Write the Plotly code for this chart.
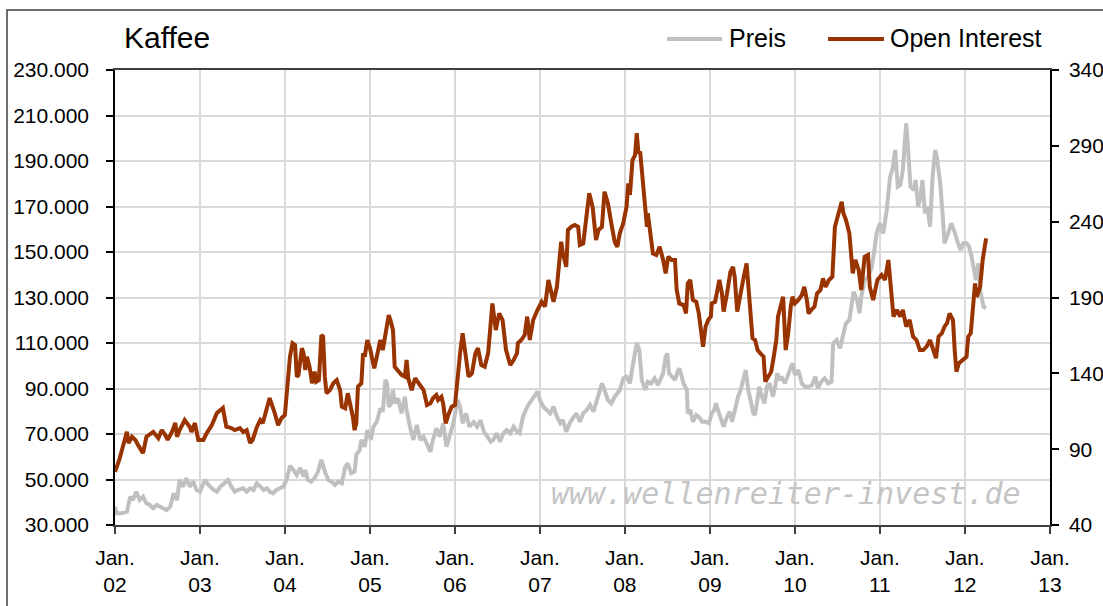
import plotly.graph_objects as go
import pandas as pd

# ---------------- data ----------------
# Open Interest (contracts, thousands) -> left axis
oi_years = [
    2002.00, 2002.05, 2002.14, 2002.16, 2002.20, 2002.24, 2002.27, 2002.33, 2002.37, 2002.45,
    2002.51, 2002.55, 2002.59, 2002.62, 2002.67, 2002.71, 2002.73, 2002.76, 2002.82, 2002.88,
    2002.90, 2002.94, 2002.98, 2003.04, 2003.08, 2003.14, 2003.20, 2003.24, 2003.27, 2003.31,
    2003.37, 2003.41, 2003.47, 2003.51, 2003.55, 2003.59, 2003.62, 2003.67, 2003.71, 2003.74,
    2003.78, 2003.82, 2003.88, 2003.92, 2003.96, 2004.00, 2004.06, 2004.09, 2004.12, 2004.14,
    2004.16, 2004.20, 2004.22, 2004.24, 2004.26, 2004.29, 2004.32, 2004.35, 2004.37, 2004.40,
    2004.43, 2004.45, 2004.47, 2004.49, 2004.53, 2004.57, 2004.61, 2004.65, 2004.67, 2004.71,
    2004.74, 2004.77, 2004.80, 2004.82, 2004.84, 2004.86, 2004.90, 2004.92, 2004.94, 2004.97,
    2005.00, 2005.02, 2005.05, 2005.08, 2005.12, 2005.15, 2005.19, 2005.22, 2005.24, 2005.27,
    2005.29, 2005.33, 2005.37, 2005.41, 2005.43, 2005.45, 2005.49, 2005.53, 2005.57, 2005.61,
    2005.63, 2005.67, 2005.71, 2005.74, 2005.78, 2005.80, 2005.84, 2005.86, 2005.89, 2005.92,
    2005.96, 2006.00, 2006.02, 2006.06, 2006.09, 2006.12, 2006.16, 2006.20, 2006.24, 2006.27,
    2006.31, 2006.35, 2006.39, 2006.44, 2006.48, 2006.52, 2006.56, 2006.60, 2006.65, 2006.69,
    2006.73, 2006.74, 2006.78, 2006.82, 2006.85, 2006.88, 2006.92, 2006.97, 2007.02, 2007.06,
    2007.10, 2007.16, 2007.20, 2007.25, 2007.27, 2007.31, 2007.33, 2007.37, 2007.41, 2007.45,
    2007.47, 2007.51, 2007.55, 2007.58, 2007.62, 2007.66, 2007.69, 2007.73, 2007.76, 2007.80,
    2007.84, 2007.88, 2007.91, 2007.94, 2007.98, 2008.02, 2008.04, 2008.06, 2008.09, 2008.12,
    2008.14, 2008.16, 2008.18, 2008.22, 2008.26, 2008.27, 2008.29, 2008.31, 2008.33, 2008.37,
    2008.41, 2008.45, 2008.48, 2008.51, 2008.55, 2008.59, 2008.61, 2008.64, 2008.69, 2008.72,
    2008.74, 2008.77, 2008.80, 2008.84, 2008.87, 2008.90, 2008.92, 2008.95, 2008.98, 2009.01,
    2009.02, 2009.06, 2009.09, 2009.11, 2009.14, 2009.16, 2009.20, 2009.24, 2009.27, 2009.29,
    2009.32, 2009.35, 2009.39, 2009.43, 2009.45, 2009.48, 2009.50, 2009.53, 2009.56, 2009.59,
    2009.63, 2009.65, 2009.69, 2009.72, 2009.75, 2009.78, 2009.80, 2009.83, 2009.86, 2009.89,
    2009.92, 2009.95, 2009.97, 2010.00, 2010.04, 2010.08, 2010.11, 2010.14, 2010.16, 2010.19,
    2010.23, 2010.26, 2010.30, 2010.33, 2010.36, 2010.40, 2010.44, 2010.47, 2010.50, 2010.53,
    2010.55, 2010.57, 2010.60, 2010.64, 2010.66, 2010.68, 2010.71, 2010.75, 2010.78, 2010.82,
    2010.86, 2010.88, 2010.92, 2010.97, 2011.02, 2011.06, 2011.10, 2011.13, 2011.16, 2011.20,
    2011.24, 2011.27, 2011.31, 2011.35, 2011.39, 2011.43, 2011.47, 2011.51, 2011.55, 2011.59,
    2011.63, 2011.66, 2011.69, 2011.73, 2011.76, 2011.79, 2011.82, 2011.86, 2011.88, 2011.90,
    2011.93, 2011.97, 2012.02, 2012.04, 2012.07, 2012.10, 2012.12, 2012.14, 2012.18, 2012.21,
    2012.25,
]
oi_thousands = [
    53.4, 58.6, 71.0, 66.0, 68.8, 67.4, 65.2, 61.6, 68.8, 70.9,
    68.2, 71.7, 69.6, 67.4, 70.9, 74.8, 68.8, 71.7, 76.1, 73.1,
    70.9, 74.8, 67.4, 67.4, 70.4, 73.9, 79.2, 80.5, 81.4, 73.2,
    72.6, 71.7, 72.6, 70.9, 71.7, 66.0, 67.4, 73.1, 76.1, 74.8,
    80.5, 85.8, 79.2, 73.9, 77.0, 78.3, 104.0, 109.9, 109.1, 95.2,
    95.9, 107.7, 105.5, 98.1, 104.0, 99.6, 92.3, 97.4, 93.0, 93.7,
    113.5, 112.8, 95.2, 87.9, 89.3, 92.3, 93.7, 89.3, 82.0, 81.3,
    87.9, 83.5, 77.6, 71.7, 74.7, 90.8, 92.3, 105.5, 104.0, 111.3,
    107.7, 104.0, 98.9, 104.0, 111.3, 106.9, 117.2, 122.3, 120.1, 115.7,
    99.6, 98.1, 96.0, 95.2, 102.5, 94.5, 89.3, 94.5, 92.3, 90.8,
    89.3, 82.7, 83.5, 85.7, 87.1, 85.0, 86.4, 83.5, 74.7, 78.3,
    82.0, 82.7, 90.8, 105.5, 114.3, 105.5, 95.2, 96.7, 105.5, 107.7,
    100.3, 99.6, 105.5, 127.4, 115.7, 123.0, 120.1, 107.0, 100.3, 102.5,
    105.5, 109.9, 111.3, 113.5, 121.6, 111.3, 120.1, 124.5, 128.1, 126.0,
    137.7, 128.1, 134.7, 154.5, 149.4, 143.5, 159.7, 161.1, 161.9, 161.1,
    153.1, 153.8, 165.5, 175.8, 169.9, 155.3, 159.7, 161.1, 176.5, 171.4,
    162.6, 154.5, 152.3, 158.2, 162.6, 169.9, 180.2, 175.1, 190.4, 192.6,
    202.2, 193.4, 194.1, 178.7, 161.1, 167.0, 161.1, 155.3, 149.4, 148.7,
    152.3, 146.5, 140.6, 147.9, 146.5, 146.5, 133.3, 127.4, 126.7, 123.0,
    136.2, 137.7, 128.9, 128.1, 123.0, 114.3, 108.4, 117.2, 120.1, 121.6,
    127.4, 128.1, 135.5, 137.7, 131.8, 123.8, 131.8, 141.3, 143.5, 139.1,
    123.8, 128.9, 137.7, 145.0, 134.7, 120.1, 112.1, 111.3, 106.9, 105.5,
    104.0, 93.0, 95.2, 97.4, 104.0, 111.3, 121.6, 126.0, 130.3, 106.9,
    114.3, 126.0, 130.3, 127.4, 128.9, 131.1, 134.7, 128.9, 123.0, 124.5,
    126.0, 131.8, 133.3, 138.4, 134.7, 137.7, 139.1, 161.1, 165.5, 169.2,
    172.1, 167.0, 164.1, 158.2, 150.9, 140.6, 146.5, 142.1, 133.3, 147.9,
    148.7, 134.7, 128.9, 137.7, 139.9, 137.7, 146.5, 131.8, 121.6, 124.5,
    121.6, 124.5, 117.2, 120.1, 112.8, 111.3, 106.9, 106.9, 108.4, 111.3,
    106.9, 103.3, 112.8, 114.3, 117.2, 118.7, 123.0, 120.1, 106.9, 97.4,
    101.1, 102.5, 104.0, 112.8, 114.3, 127.4, 136.2, 130.3, 134.7, 146.5,
    156.0,
]

# Preis (US cents / lb) -> right axis
price_years = [
    2002.00, 2002.02, 2002.08, 2002.14, 2002.18, 2002.21, 2002.25, 2002.29, 2002.33, 2002.37,
    2002.41, 2002.45, 2002.49, 2002.53, 2002.57, 2002.61, 2002.65, 2002.69, 2002.73, 2002.76,
    2002.80, 2002.84, 2002.88, 2002.92, 2002.96, 2003.00, 2003.06, 2003.10, 2003.16, 2003.20,
    2003.24, 2003.29, 2003.33, 2003.37, 2003.41, 2003.45, 2003.51, 2003.55, 2003.59, 2003.63,
    2003.67, 2003.71, 2003.75, 2003.79, 2003.82, 2003.86, 2003.90, 2003.94, 2003.98, 2004.02,
    2004.06, 2004.10, 2004.14, 2004.18, 2004.22, 2004.24, 2004.27, 2004.31, 2004.35, 2004.39,
    2004.43, 2004.47, 2004.51, 2004.55, 2004.59, 2004.63, 2004.67, 2004.71, 2004.74, 2004.78,
    2004.82, 2004.84, 2004.88, 2004.90, 2004.94, 2004.97, 2005.01, 2005.04, 2005.08, 2005.12,
    2005.15, 2005.18, 2005.20, 2005.22, 2005.25, 2005.27, 2005.29, 2005.33, 2005.37, 2005.41,
    2005.43, 2005.47, 2005.51, 2005.55, 2005.59, 2005.63, 2005.67, 2005.71, 2005.74, 2005.78,
    2005.82, 2005.86, 2005.90, 2005.94, 2005.98, 2006.03, 2006.06, 2006.09, 2006.13, 2006.17,
    2006.22, 2006.26, 2006.30, 2006.34, 2006.38, 2006.42, 2006.45, 2006.49, 2006.53, 2006.57,
    2006.61, 2006.65, 2006.69, 2006.73, 2006.76, 2006.80, 2006.85, 2006.90, 2006.97, 2007.00,
    2007.04, 2007.08, 2007.12, 2007.16, 2007.20, 2007.24, 2007.27, 2007.31, 2007.35, 2007.39,
    2007.43, 2007.47, 2007.51, 2007.55, 2007.59, 2007.63, 2007.67, 2007.73, 2007.76, 2007.80,
    2007.84, 2007.88, 2007.94, 2007.98, 2008.02, 2008.06, 2008.09, 2008.12, 2008.14, 2008.17,
    2008.20, 2008.24, 2008.27, 2008.31, 2008.35, 2008.39, 2008.42, 2008.45, 2008.48, 2008.50,
    2008.52, 2008.56, 2008.59, 2008.62, 2008.64, 2008.67, 2008.69, 2008.73, 2008.74, 2008.77,
    2008.80, 2008.84, 2008.87, 2008.91, 2008.95, 2008.99, 2009.02, 2009.05, 2009.07, 2009.10,
    2009.13, 2009.16, 2009.20, 2009.23, 2009.26, 2009.29, 2009.33, 2009.36, 2009.40, 2009.42,
    2009.45, 2009.48, 2009.51, 2009.53, 2009.56, 2009.58, 2009.61, 2009.64, 2009.67, 2009.70,
    2009.73, 2009.74, 2009.77, 2009.79, 2009.82, 2009.84, 2009.88, 2009.92, 2009.95, 2009.97,
    2010.00, 2010.04, 2010.08, 2010.12, 2010.16, 2010.20, 2010.24, 2010.27, 2010.31, 2010.35,
    2010.39, 2010.43, 2010.45, 2010.49, 2010.53, 2010.56, 2010.60, 2010.64, 2010.67, 2010.69,
    2010.73, 2010.76, 2010.78, 2010.82, 2010.86, 2010.90, 2010.93, 2010.96, 2011.00, 2011.04,
    2011.08, 2011.12, 2011.15, 2011.18, 2011.21, 2011.24, 2011.27, 2011.29, 2011.31, 2011.33,
    2011.36, 2011.40, 2011.42, 2011.45, 2011.48, 2011.50, 2011.53, 2011.56, 2011.59, 2011.62,
    2011.65, 2011.67, 2011.71, 2011.74, 2011.76, 2011.79, 2011.82, 2011.84, 2011.87, 2011.89,
    2011.92, 2011.95, 2011.98, 2012.02, 2012.05, 2012.08, 2012.11, 2012.13, 2012.16, 2012.18,
    2012.22, 2012.25,
]
price_values = [
    52.1, 47.7, 47.7, 48.8, 58.7, 56.5, 62.0, 56.5, 58.7, 54.3,
    53.2, 51.0, 53.2, 52.1, 51.0, 49.9, 52.1, 60.9, 56.5, 69.7,
    65.3, 70.8, 65.3, 68.6, 63.1, 62.0, 69.7, 66.4, 63.1, 62.0,
    65.3, 67.5, 69.7, 65.3, 62.0, 63.1, 64.2, 62.0, 64.2, 63.1,
    67.5, 65.3, 63.1, 64.2, 62.0, 60.9, 63.1, 64.2, 65.3, 69.7,
    79.0, 76.3, 73.0, 77.6, 71.9, 76.3, 69.7, 68.6, 71.0, 75.2,
    82.9, 75.2, 69.7, 68.6, 66.4, 68.6, 67.5, 78.4, 80.7, 74.1,
    75.2, 86.2, 89.5, 96.1, 91.6, 102.6, 96.1, 104.8, 108.1, 116.9,
    114.7, 135.6, 133.4, 118.0, 120.2, 129.0, 120.2, 123.5, 113.6, 124.6,
    115.8, 104.8, 96.1, 106.0, 96.1, 98.2, 93.9, 88.3, 96.1, 103.8,
    98.2, 107.0, 91.6, 100.5, 107.0, 122.4, 118.0, 107.1, 113.6, 104.8,
    107.9, 104.8, 109.2, 101.5, 98.2, 94.9, 96.1, 100.5, 94.9, 100.5,
    102.6, 100.5, 104.8, 101.5, 100.5, 111.4, 118.0, 122.4, 127.9, 122.4,
    118.0, 115.8, 113.6, 118.0, 111.4, 107.1, 109.2, 101.5, 107.1, 110.6,
    113.6, 108.1, 113.6, 115.8, 119.1, 114.7, 122.4, 133.4, 129.0, 122.4,
    120.2, 124.6, 129.0, 136.7, 137.8, 133.4, 144.4, 153.2, 159.8, 155.4,
    135.6, 129.0, 134.5, 133.4, 136.7, 132.3, 135.6, 140.0, 151.0, 153.2,
    140.0, 137.8, 135.6, 141.1, 143.3, 137.8, 133.4, 129.0, 113.6, 115.8,
    108.1, 112.5, 111.2, 108.1, 108.1, 107.1, 113.6, 115.8, 120.2, 114.7,
    109.2, 104.8, 111.4, 114.7, 108.1, 115.8, 124.6, 129.0, 137.8, 142.2,
    129.0, 120.2, 113.6, 112.5, 124.6, 131.2, 124.6, 120.2, 131.2, 133.4,
    126.8, 124.6, 132.3, 140.0, 135.6, 137.8, 133.4, 140.0, 144.4, 146.6,
    138.9, 142.2, 133.4, 131.2, 131.2, 132.3, 137.8, 130.1, 134.5, 136.7,
    133.4, 134.5, 159.8, 162.0, 156.5, 164.2, 173.0, 175.2, 186.2, 193.8,
    188.4, 179.6, 190.5, 201.5, 203.7, 209.3, 219.1, 232.3, 238.9, 232.3,
    247.7, 269.6, 275.2, 287.3, 263.1, 264.2, 274.1, 293.8, 304.9, 289.4,
    263.1, 260.9, 267.5, 249.9, 256.5, 267.5, 245.5, 249.9, 236.7, 269.6,
    287.3, 282.8, 265.3, 243.3, 225.7, 230.1, 234.5, 238.9, 234.5, 230.1,
    225.7, 221.3, 225.7, 225.7, 223.5, 216.9, 206.0, 201.5, 212.6, 194.9,
    183.9, 182.9,
]

year_ticks = list(range(2002, 2014))
tick_labels = ["Jan.<br>%02d" % (y % 100) for y in year_ticks]
left_ticks = list(range(30000, 230001, 20000))
right_ticks = list(range(40, 341, 50))


def to_dates(years):
    out = []
    for y in years:
        yi = int(round(y, 6) // 1)
        out.append(pd.Timestamp(yi, 1, 1) + pd.Timedelta(days=(y - yi) * 365.25))
    return out


FONT = "Liberation Sans, Arial, sans-serif"
BROWN = "#993300"
GREY = "#C0C0C0"

fig = go.Figure()
fig.add_trace(go.Scatter(
    x=to_dates(price_years), y=price_values, name="Preis", mode="lines",
    line=dict(color=GREY, width=4), yaxis="y", showlegend=False,
))
fig.add_trace(go.Scatter(
    x=to_dates(oi_years), y=[v * 1000 for v in oi_thousands], name="Open Interest",
    mode="lines", line=dict(color=BROWN, width=4), yaxis="y2", showlegend=False,
))

# plot area: x 115..1050, y 70..525 px
L, R, T, B = 115, 1050, 70, 525
W, H = R - L, B - T


def px_x(x):
    return (x - L) / W


def px_y(y):
    return (B - y) / H


fig.update_layout(
    width=1103, height=606,
    margin=dict(l=L, r=1103 - R, t=T, b=606 - B, autoexpand=False),
    paper_bgcolor="white", plot_bgcolor="white",
    separators=",.",
    font=dict(family=FONT, size=21, color="black"),
    title=dict(text="Kaffee", x=124 / 1103, xanchor="left", xref="container",
               y=1 - 37 / 606, yanchor="middle", yref="container",
               font=dict(family=FONT, size=30, color="black")),
    xaxis=dict(
        type="date", range=["2002-01-01", "2013-01-01"],
        tickvals=[pd.Timestamp(y, 1, 1) for y in year_ticks], ticktext=tick_labels,
        showgrid=True, gridcolor="#D9D9D9", gridwidth=1.5,
        showline=True, mirror=True, linecolor="#404040", linewidth=1.5,
        ticks="outside", ticklen=7, tickcolor="#404040", tickwidth=1.5,
        tickfont=dict(family=FONT, size=21, color="black"), ticklabelstandoff=6,
        zeroline=False,
    ),
    yaxis=dict(
        side="right", range=[40, 340], tickvals=right_ticks,
        showgrid=False, zeroline=False,
        showline=True, linecolor="black", linewidth=1.5,
        ticks="outside", ticklen=7, tickcolor="black", tickwidth=1.5,
        tickfont=dict(family=FONT, size=21, color="black"), ticklabelstandoff=6,
    ),
    yaxis2=dict(
        overlaying="y", side="left", range=[30000, 230000], tickvals=left_ticks,
        tickformat=",d",
        showgrid=True, gridcolor="#D9D9D9", gridwidth=1.5, zeroline=False,
        showline=True, linecolor="black", linewidth=1.5,
        ticks="outside", ticklen=7, tickcolor="black", tickwidth=1.5,
        tickfont=dict(family=FONT, size=21, color="black"), ticklabelstandoff=13,
    ),
)

shapes = [
    # outer chart border (runs off the right and bottom edge)
    dict(type="rect", xref="paper", yref="paper",
         x0=px_x(7), x1=px_x(1140), y0=px_y(640), y1=px_y(10),
         line=dict(color="#404040", width=1.5), fillcolor="rgba(0,0,0,0)", layer="above"),
    # legend samples
    dict(type="line", xref="paper", yref="paper", x0=px_x(667), x1=px_x(722),
         y0=px_y(39), y1=px_y(39), line=dict(color=GREY, width=4)),
    dict(type="line", xref="paper", yref="paper", x0=px_x(828), x1=px_x(884),
         y0=px_y(39), y1=px_y(39), line=dict(color=BROWN, width=4)),
]
annotations = [
    dict(text="Preis", xref="paper", yref="paper", x=px_x(727), y=px_y(37.5),
         xanchor="left", yanchor="middle", showarrow=False,
         font=dict(family=FONT, size=25, color="black")),
    dict(text="Open Interest", xref="paper", yref="paper", x=px_x(888), y=px_y(37.5),
         xanchor="left", yanchor="middle", showarrow=False,
         font=dict(family=FONT, size=25, color="black")),
    dict(text="www.wellenreiter-invest.de", xref="paper", yref="paper",
         x=px_x(786), y=px_y(493), xanchor="center", yanchor="middle", showarrow=False,
         font=dict(family="DejaVu Sans Mono", size=30, color="#C4C4C4", style="italic")),
]
fig.update_layout(shapes=shapes, annotations=annotations)

fig.write_html(
    "out.html",
    config={"displayModeBar": False},
    post_script="document.body.style.margin='0px';document.body.style.overflow='hidden';",
)
